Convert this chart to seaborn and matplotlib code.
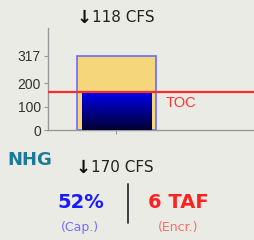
import numpy as np
import pandas as pd
import matplotlib
matplotlib.use("Agg")
import matplotlib.pyplot as plt
from matplotlib import font_manager
import seaborn as sns

# reservoir data
station = ["NHG"]
capacity = [317]
storage = [165]
toc = [160]
yticks = [0, 100, 200, 317]
outflow_cfs = 118
inflow_cfs = 170
pct_cap = 52
encr_taf = 6

bg = "#ebebe6"
sns.set_style("white")
plt.rcParams["font.family"] = ["DejaVu Sans"]

# narrow font for axis text, if present
names = {f.name for f in font_manager.fontManager.ttflist}
narrow = "Liberation Sans Narrow" if "Liberation Sans Narrow" in names else "Liberation Sans"

df = pd.DataFrame({"station": station, "capacity": capacity, "storage": storage})

fig = plt.figure(figsize=(2.55, 2.4), dpi=100, facecolor=bg)
ax = fig.add_axes([0.188, 0.458, 0.812, 0.425], facecolor=bg)

sns.barplot(data=df, x="station", y="capacity", color="#f5d67a", width=0.8,
            edgecolor="#6b6bff", linewidth=1.2, saturation=1, ax=ax)
sns.barplot(data=df, x="station", y="storage", color="#0000cc", width=0.7,
            linewidth=0, saturation=1, ax=ax)

# gradient fill for storage bar
bar = ax.patches[-1]
x0, y0 = bar.get_x(), bar.get_y()
w, h = bar.get_width(), bar.get_height()
grad = np.linspace(0, 1, 256).reshape(-1, 1)
cmap = matplotlib.colors.LinearSegmentedColormap.from_list("g", ["#000033", "#0000f0"])
im = ax.imshow(grad, extent=[x0, x0 + w, y0, y0 + h], origin="lower",
               cmap=cmap, aspect="auto", zorder=3)
im.set_clip_path(bar)
bar.set_facecolor("none")

ax.axhline(toc[0], color="#ff2a2a", lw=1.6, zorder=4)
ax.text(0.50, toc[0] - 15, "TOC", color="#ff3333", fontsize=10.5, va="top",
        ha="left", fontfamily=narrow)

ax.set_xlim(-0.69, 1.40)
ax.set_ylim(0, 434)
ax.set_yticks(yticks)
ax.set_yticklabels([str(t) for t in yticks], fontfamily=narrow,
                   fontsize=10, color="#333333")
ax.set_xticks([0])
ax.set_xticklabels([""])
ax.set_xlabel("")
ax.set_ylabel("")
ax.tick_params(axis="y", length=3, width=0.8, color="#999999", pad=2, left=True)
ax.tick_params(axis="x", length=3, width=0.8, color="#999999", bottom=True)
for s in ["top", "right"]:
    ax.spines[s].set_visible(False)
for s in ["left", "bottom"]:
    ax.spines[s].set_color("#999999")
    ax.spines[s].set_linewidth(1)

fig.text(0.329, 0.925, "\u2193", fontsize=13, color="#111111", ha="center", va="center",
         fontweight="bold")
fig.text(0.362, 0.925, f"{outflow_cfs} CFS", fontsize=11, color="#222222", ha="left", va="center")

fig.text(0.03, 0.335, station[0], fontsize=13, color="#1a7a9a", fontweight="bold",
         ha="left", va="center")
fig.text(0.325, 0.3, "\u2193", fontsize=13, color="#111111", ha="center", va="center",
         fontweight="bold")
fig.text(0.358, 0.3, f"{inflow_cfs} CFS", fontsize=11, color="#222222", ha="left", va="center")

fig.text(0.315, 0.155, f"{pct_cap}%", fontsize=14, color="#1a1aff", fontweight="bold",
         ha="center", va="center")
fig.text(0.315, 0.05, "(Cap.)", fontsize=9, color="#7070ff", ha="center", va="center")
fig.add_artist(plt.Line2D([0.502, 0.502], [0.07, 0.235], color="#333333", lw=1.3))
fig.text(0.7, 0.155, f"{encr_taf} TAF", fontsize=14, color="#ff2222", fontweight="bold",
         ha="center", va="center")
fig.text(0.7, 0.05, "(Encr.)", fontsize=9, color="#ff6a6a", ha="center", va="center")

fig.savefig("out.png", dpi=100, facecolor=bg)
